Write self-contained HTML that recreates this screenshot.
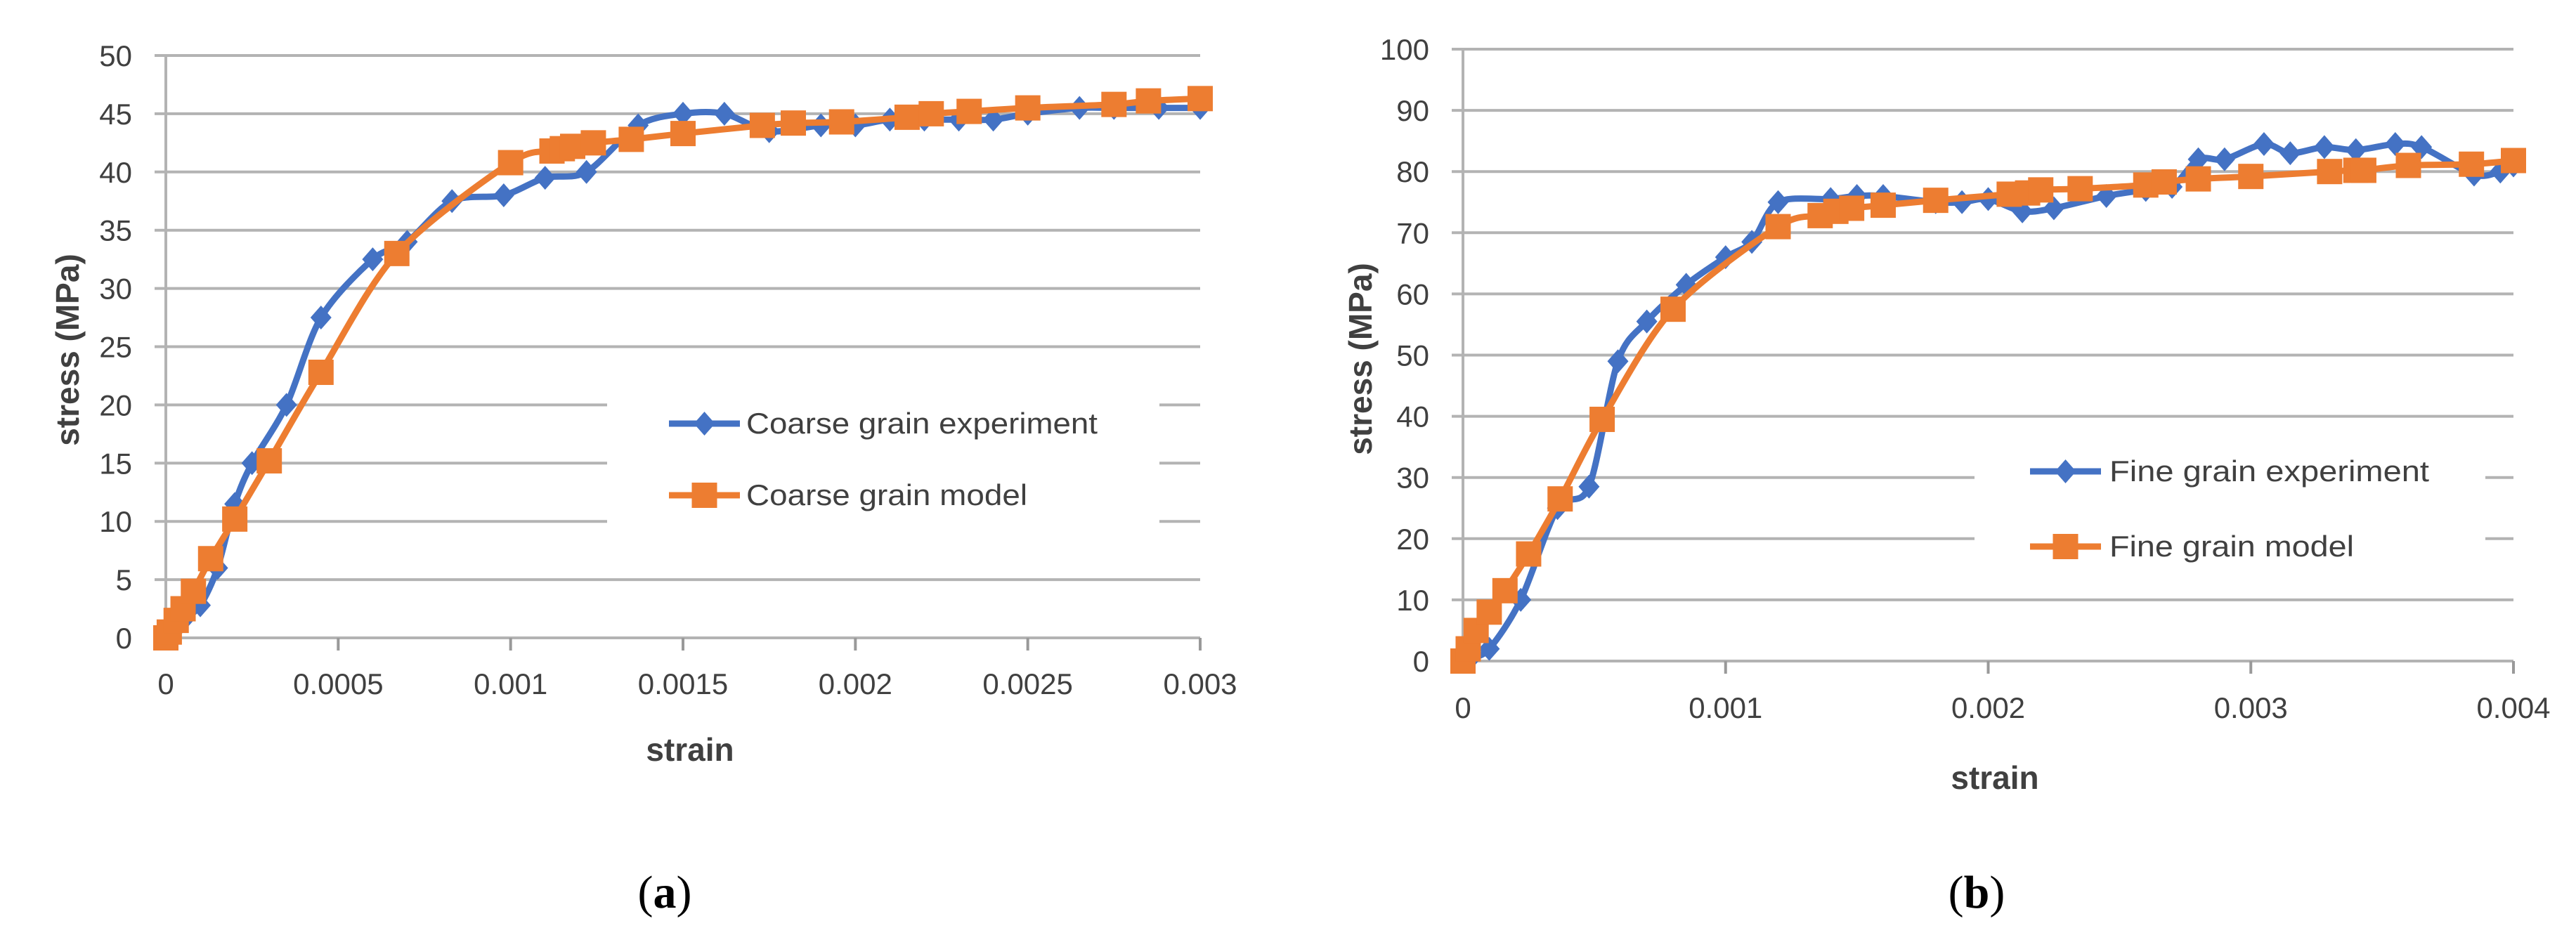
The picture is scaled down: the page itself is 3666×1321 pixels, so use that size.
<!DOCTYPE html>
<html><head><meta charset="utf-8"><style>
html,body{margin:0;padding:0;background:#fff;}
svg{display:block;}
</style></head><body>
<svg id="fig" width="3666" height="1321" viewBox="0 0 3666 1321" xmlns="http://www.w3.org/2000/svg">
<g id="chartA"></g>
<g id="chartB"></g>
<text x="946" y="1292" font-family="Liberation Serif, serif" font-size="66" text-anchor="middle" fill="#000">(<tspan font-weight="bold">a</tspan>)</text>
<text x="2813" y="1292" font-family="Liberation Serif, serif" font-size="66" text-anchor="middle" fill="#000">(<tspan font-weight="bold">b</tspan>)</text>
</svg>
<script>
// Chart A data
const coarseExpStrain = [0,0.00002,0.00005,0.0001,0.00015,0.0002,0.00025,0.00035,0.00045,0.0006,0.0007,0.00083,0.00098,0.0011,0.00122,0.00137,0.0015,0.00162,0.00175,0.0019,0.002,0.0021,0.0022,0.0023,0.0024,0.0025,0.00265,0.00275,0.00288,0.003];
const coarseExpStress = [0,0.5,1.5,2.8,6,11.5,15,20,27.5,32.5,34,37.5,38,39.5,40,44,45,45,43.5,44,44,44.5,44.5,44.5,44.5,45,45.5,45.5,45.5,45.5];
const coarseModelStrain = [0,0.00001,0.00003,0.00005,0.00008,0.00013,0.0002,0.0003,0.00045,0.00067,0.001,0.00112,0.00115,0.00118,0.00124,0.00135,0.0015,0.00173,0.00182,0.00196,0.00215,0.00222,0.00233,0.0025,0.00275,0.00285,0.003];
const coarseModelStress = [0,0.5,1.5,2.5,4,6.8,10.2,15.2,22.8,33,40.8,41.8,42,42.2,42.5,42.8,43.3,44,44.2,44.3,44.7,45,45.2,45.5,45.8,46.1,46.3];
const coarseYTicks = [0,5,10,15,20,25,30,35,40,45,50];
const coarseXTicks = [0,0.0005,0.001,0.0015,0.002,0.0025,0.003];
const coarseXTickLabels = ["0","0.0005","0.001","0.0015","0.002","0.0025","0.003"];
// Chart B data
const fineExpStrain = [0,0.00003,0.0001,0.00022,0.00036,0.00048,0.00059,0.0007,0.00085,0.001,0.0011,0.0012,0.0014,0.0015,0.0016,0.0018,0.0019,0.002,0.00213,0.00225,0.00245,0.0026,0.0027,0.0028,0.0029,0.00305,0.00315,0.00328,0.0034,0.00355,0.00365,0.00385,0.00395,0.004];
const fineExpStress = [0,0.5,2,10,25,28.5,49,55.5,61.5,66,68.5,75,75.5,76,76,75,75,75.5,73.5,74,76,77,77.5,82,82,84.5,83,84,83.5,84.5,84,79.5,80,81];
const fineModelStrain = [0,0.00002,0.00005,0.0001,0.00016,0.00025,0.00037,0.00053,0.0008,0.0012,0.00136,0.00142,0.00148,0.0016,0.0018,0.00208,0.00215,0.0022,0.00235,0.0026,0.00267,0.0028,0.003,0.0033,0.0034,0.00343,0.0036,0.00384,0.004];
const fineModelStress = [0,2,5,8,11.5,17.5,26.5,39.5,57.5,71,72.8,73.5,74,74.5,75.3,76.3,76.5,77,77.2,77.8,78.3,78.8,79.2,80,80.2,80.2,81,81.2,81.8];
const fineYTicks = [0,10,20,30,40,50,60,70,80,90,100];
const fineXTicks = [0,0.001,0.002,0.003,0.004];
const fineXTickLabels = ["0","0.001","0.002","0.003","0.004"];

const NS = "http://www.w3.org/2000/svg";
const BLUE = "#4472C4", ORANGE = "#ED7D31", GRID = "#b3b3b3";
function mk(parent, tag, attrs){
  const e = document.createElementNS(NS, tag);
  for (const k in attrs) e.setAttribute(k, attrs[k]);
  parent.appendChild(e);
  return e;
}
function smoothPath(pts){
  let d = "M" + pts[0][0] + "," + pts[0][1];
  for (let i = 0; i < pts.length - 1; i++){
    const p0 = pts[i-1] || pts[i], p1 = pts[i], p2 = pts[i+1], p3 = pts[i+2] || pts[i+1];
    const t = 0.15;
    const c1x = p1[0] + (p2[0]-p0[0])*t, c1y = p1[1] + (p2[1]-p0[1])*t;
    const c2x = p2[0] - (p3[0]-p1[0])*t, c2y = p2[1] - (p3[1]-p1[1])*t;
    d += " C" + c1x + "," + c1y + " " + c2x + "," + c2y + " " + p2[0] + "," + p2[1];
  }
  return d;
}
function drawChart(g, cfg){
  const sx = v => cfg.x0 + (v - cfg.xmin) / (cfg.xmax - cfg.xmin) * (cfg.x1 - cfg.x0);
  const sy = v => cfg.y0 - (v - cfg.ymin) / (cfg.ymax - cfg.ymin) * (cfg.y0 - cfg.y1);
  cfg.yTicks.forEach(t => {
    const y = sy(t);
    const gapped = cfg.gapTicks.indexOf(t) >= 0;
    if (gapped){
      const l1 = mk(g, "line", {x1: cfg.x0 - 16, x2: cfg.gap[0], y1: y, y2: y, stroke: GRID, "stroke-width": 4});
      
      
      const l2 = mk(g, "line", {x1: cfg.gap[1], x2: cfg.x1, y1: y, y2: y, stroke: GRID, "stroke-width": 4});
      
      
    } else {
      const l = mk(g, "line", {x1: cfg.x0 - 16, x2: cfg.x1, y1: y, y2: y, stroke: GRID, "stroke-width": 4});
      
      
    }
    const tx = mk(g, "text", {x: cfg.yLabelRight, y: y + 15, "text-anchor": "end", "font-family": "Liberation Sans, sans-serif", "font-size": 42, fill: "#404040"});
    tx.textContent = String(t);
    
    
  });
  const ax = mk(g, "line", {x1: cfg.x0, x2: cfg.x0, y1: cfg.y1, y2: cfg.y0 + 16, stroke: GRID, "stroke-width": 4});
  
  
  cfg.xTicks.forEach((t, i) => {
    const x = sx(t);
    const tk = mk(g, "line", {x1: x, x2: x, y1: cfg.y0, y2: cfg.y0 + 18, stroke: "#999", "stroke-width": 4});
    
    
    const tx = mk(g, "text", {x: x, y: cfg.xLabelY, "text-anchor": "middle", "font-family": "Liberation Sans, sans-serif", "font-size": 42, fill: "#404040"});
    tx.textContent = cfg.xTickLabels[i];
    
    
  });
  const yt = mk(g, "text", {x: 0, y: 0, transform: "translate(" + cfg.yTitleX + "," + cfg.yTitleY + ") rotate(-90)", "text-anchor": "middle", "font-family": "Liberation Sans, sans-serif", "font-size": 46, "font-weight": "bold", fill: "#404040"});
  yt.textContent = "stress  (MPa)";
  
  
  const xt = mk(g, "text", {x: cfg.xTitleX, y: cfg.xTitleY, "text-anchor": "middle", "font-family": "Liberation Sans, sans-serif", "font-size": 46, "font-weight": "bold", fill: "#404040"});
  xt.textContent = "strain";
  
  
  const series = [
    {xs: cfg.expX, ys: cfg.expY, color: BLUE, marker: "diamond", name: "experiment-series"},
    {xs: cfg.modX, ys: cfg.modY, color: ORANGE, marker: "square", name: "model-series"}
  ];
  series.forEach(s => {
    const sg = mk(g, "g", {});
    
    
    const pts = s.xs.map((v, i) => [sx(v), sy(s.ys[i])]);
    const p = mk(sg, "path", {d: smoothPath(pts), fill: "none", stroke: s.color, "stroke-width": 9, "stroke-linejoin": "round"});
    
    
    pts.forEach(pt => {
      let m;
      if (s.marker === "square"){
        m = mk(sg, "rect", {x: pt[0] - 18, y: pt[1] - 18, width: 36, height: 36, fill: s.color});
      } else {
        m = mk(sg, "polygon", {points: [[pt[0], pt[1]-17],[pt[0]+15, pt[1]],[pt[0], pt[1]+17],[pt[0]-15, pt[1]]].map(q => q.join(",")).join(" "), fill: s.color});
      }
      
      
    });
  });
  const lg = mk(g, "g", {});
  
  
  cfg.legend.forEach((L, i) => {
    const y = cfg.legY[i];
    const e = mk(lg, "g", {});
    
    
    mk(e, "line", {x1: cfg.legX0, x2: cfg.legX1, y1: y, y2: y, stroke: L.color, "stroke-width": 9});
    const cx = (cfg.legX0 + cfg.legX1) / 2;
    if (L.marker === "square") mk(e, "rect", {x: cx - 18, y: y - 18, width: 36, height: 36, fill: L.color});
    else mk(e, "polygon", {points: (cx) + "," + (y-17) + " " + (cx+15) + "," + y + " " + cx + "," + (y+17) + " " + (cx-15) + "," + y, fill: L.color});
    const t = mk(e, "text", {x: cfg.legTextX, y: y + 14, "font-family": "Liberation Sans Narrow, Liberation Sans, sans-serif", "font-size": 42, fill: "#404040", textLength: L.w, lengthAdjust: "spacingAndGlyphs"});
    t.textContent = L.label;
  });
}
drawChart(document.getElementById("chartA"), {
  x0: 236, x1: 1708, xmin: 0, xmax: 0.003, y0: 908, y1: 79, ymin: 0, ymax: 50,
  yTicks: coarseYTicks, xTicks: coarseXTicks, xTickLabels: coarseXTickLabels,
  gapTicks: [10,15,20], gap: [864, 1650], yLabelRight: 188, xLabelY: 988,
  yTitleX: 112, yTitleY: 498, xTitleX: 982, xTitleY: 1083,
  expX: coarseExpStrain, expY: coarseExpStress, modX: coarseModelStrain, modY: coarseModelStress,
  legend: [{label: "Coarse grain experiment", color: BLUE, marker: "diamond", w: 500},
           {label: "Coarse grain model", color: ORANGE, marker: "square", w: 400}],
  legY: [603, 705], legX0: 952, legX1: 1053, legTextX: 1062
});
drawChart(document.getElementById("chartB"), {
  x0: 2082, x1: 3577, xmin: 0, xmax: 0.004, y0: 941, y1: 70, ymin: 0, ymax: 100,
  yTicks: fineYTicks, xTicks: fineXTicks, xTickLabels: fineXTickLabels,
  gapTicks: [20,30], gap: [2810, 3537], yLabelRight: 2034, xLabelY: 1022,
  yTitleX: 1952, yTitleY: 511, xTitleX: 2839, xTitleY: 1123,
  expX: fineExpStrain, expY: fineExpStress, modX: fineModelStrain, modY: fineModelStress,
  legend: [{label: "Fine grain experiment", color: BLUE, marker: "diamond", w: 455},
           {label: "Fine grain model", color: ORANGE, marker: "square", w: 348}],
  legY: [671, 778], legX0: 2889, legX1: 2990, legTextX: 3002
});
</script>
</body></html>
